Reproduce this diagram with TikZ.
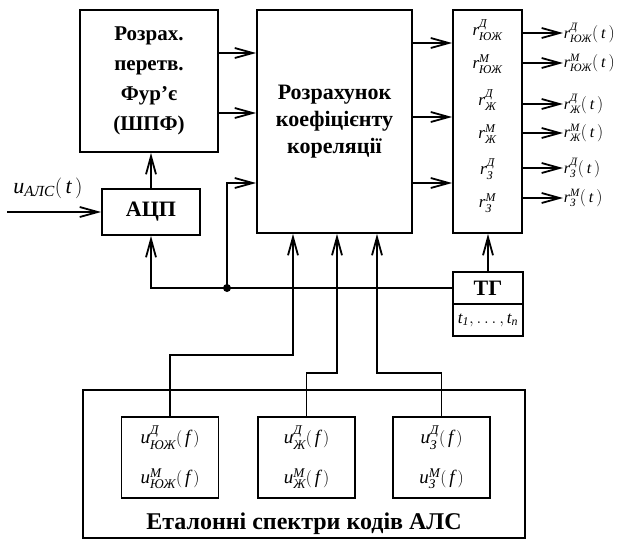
\documentclass[tikz,border=0pt]{standalone}
\usepackage{fontspec}
\setmainfont{Liberation Serif}
\usepackage{amsmath}
\usetikzlibrary{arrows.meta}

\newcommand{\rsym}[2]{$\textit{r}^{\textit{#1}}_{\textit{#2}}$}
\newcommand{\usym}[2]{$\textit{u}^{\textit{#1}}_{\textit{#2}}(\,\textit{f}\,)$}

\begin{document}
\begin{tikzpicture}[x=1pt, y=-1pt, line width=1.8pt,
    box/.style={draw, inner sep=0pt, align=center},
    bold/.style={font=\bfseries\fontsize{22}{27}\selectfont},
    sig/.style={-{Straight Barb[length=18pt,width=10pt]}},
    lbl/.style={inner sep=0pt, font=\fontsize{19}{22}\selectfont},
    spec/.style={box, lbl, font=\fontsize{19}{40}\selectfont, minimum width=97pt, minimum height=81pt}]
    \useasboundingbox (0,0) rectangle (631,542);

    % blocks
    \node[box, minimum width=138pt, minimum height=142pt, font=\bfseries\fontsize{21}{30}\selectfont]
        (fft) at (149,81) {Розрах.\\перетв.\\Фур'є\\(ШПФ)};
    \node[box, bold, minimum width=155pt, minimum height=223pt]
        (corr) at (334.5,121.5) {Розрахунок\\коефіцієнту\\кореляції};
    \node[box, minimum width=69pt, minimum height=223pt] (rbox) at (487.5,121.5) {};
    \node[box, bold, minimum width=98pt, minimum height=46pt] (adc) at (151,212) {АЦП};
    \node[box, bold, minimum width=70pt, minimum height=32pt] (tg) at (488,288) {ТГ};
    \node[box, lbl, font=\fontsize{17}{20}\selectfont, minimum width=70pt, minimum height=32pt]
        (tgt) at (488,320) {$\textit{t}_{\textit{1}},\ldots,\textit{t}_{\textit{n}}$};

    % reference spectra
    \node[box, minimum width=442pt, minimum height=148pt] (etal) at (304,464) {};
    \node[font=\bfseries\fontsize{24}{27}\selectfont] (etlab) at (304,524) {Еталонні спектри кодів АЛС};
    \node[spec] (s1) at (170,457.5) {\usym{Д}{ЮЖ}\\\usym{М}{ЮЖ}};
    \node[spec] (s2) at (306.5,457.5) {\usym{Д}{Ж}\\\usym{М}{Ж}};
    \node[spec] (s3) at (441.5,457.5) {\usym{Д}{З}\\\usym{М}{З}};

    % correlation values
    \foreach \yy/\hi/\lo [count=\i] in {30/Д/ЮЖ, 64/М/ЮЖ, 100/Д/Ж, 134/М/Ж, 169/Д/З, 203/М/З}
        \node[lbl, font=\fontsize{17}{20}\selectfont] (r\i) at (487.5,\yy) {\rsym{\hi}{\lo}};
    \foreach \yy/\hi/\lo [count=\i] in {33/Д/ЮЖ, 63/М/ЮЖ, 104/Д/Ж, 133/М/Ж, 168/Д/З, 198/М/З} {
        \node[lbl, font=\fontsize{16}{18}\selectfont, anchor=west] (o\i) at (563,\yy) {\rsym{\hi}{\lo}$(\,\textit{t}\,)$};
        \draw[sig] (rbox.east |- o\i.west) -- (o\i.west);
    }

    % signal paths
    \coordinate (inp) at (7,212);
    \node[lbl, font=\fontsize{22}{24}\selectfont] (uin) at (48,188) {$\textit{u}_{\textit{АЛС}}(\,\textit{t}\,)$};
    \draw[sig] (inp) -- (adc.west);
    \draw[sig] (adc.north) -- (adc.north |- fft.south);
    \foreach \yy in {53,113}
        \draw[sig] (fft.east |- 0,\yy) -- (corr.west |- 0,\yy);
    \foreach \yy in {43,117,183}
        \draw[sig] (corr.east |- 0,\yy) -- (rbox.west |- 0,\yy);

    % clock
    \coordinate (jn) at (227,288);
    \draw[sig] (tg.west) -| (adc.south);
    \fill (jn) circle (4);
    \draw[sig] (jn) |- (corr.west |- 0,183);
    \draw[sig] (tg.north) -- (tg.north |- rbox.south);

    % spectra to correlator
    \coordinate (k1) at (293,355);
    \coordinate (k2) at (337,373);
    \coordinate (k3) at (377,373);
    \draw[sig] (s1.north) |- (k1) -- (k1 |- corr.south);
    \draw[sig] (s2.north) |- (k2) -- (k2 |- corr.south);
    \draw[sig] (s3.north) |- (k3) -- (k3 |- corr.south);
\end{tikzpicture}
\end{document}
